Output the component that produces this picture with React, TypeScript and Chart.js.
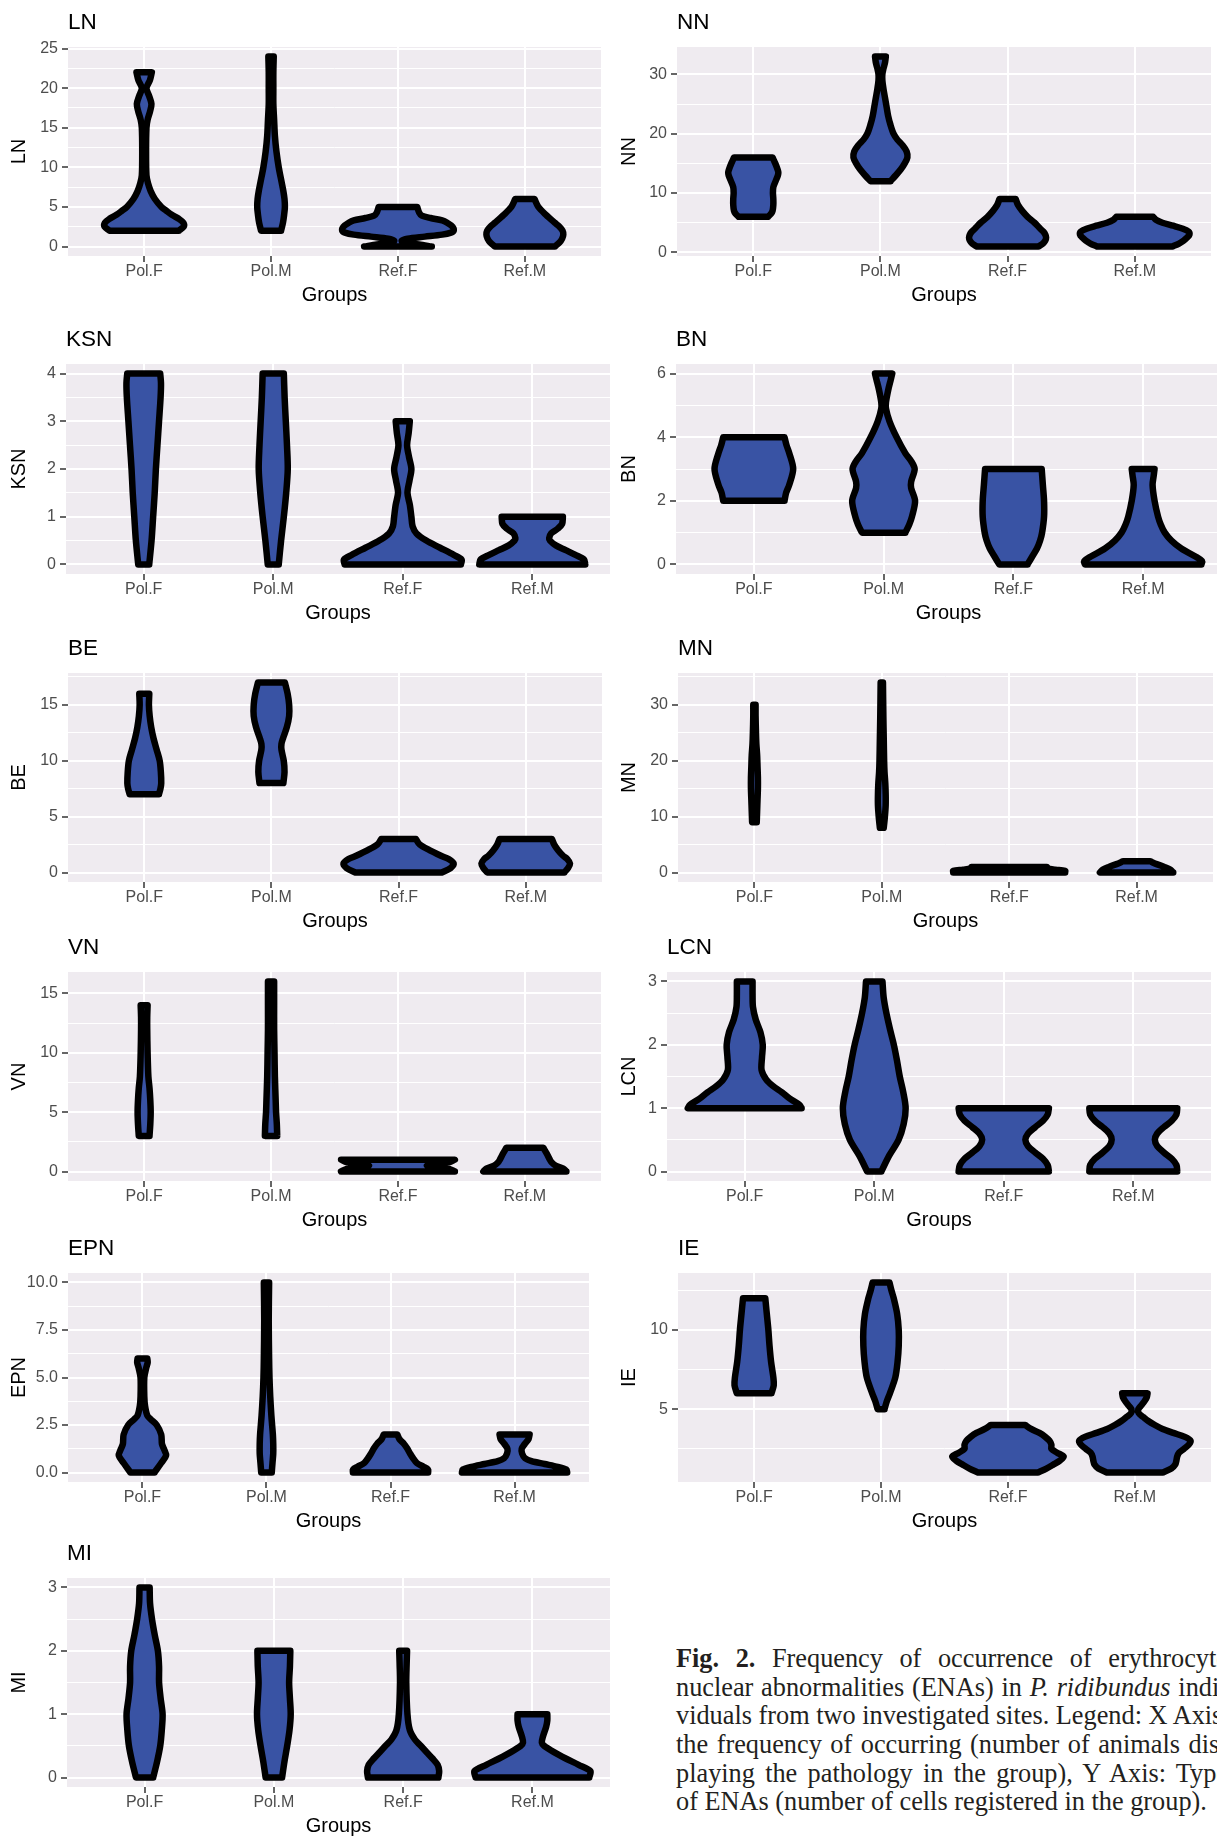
import React, { useEffect, useRef } from 'react';
import { Chart, registerables } from 'chart.js';

Chart.register(...registerables);

// ---------- categories ----------
const GROUPS = ['Pol.F', 'Pol.M', 'Ref.F', 'Ref.M'];
const X_TITLE = 'Groups';

// ---------- y tick labels per panel ----------
const LN_TICKS = [0, 5, 10, 15, 20, 25];
const NN_TICKS = [0, 10, 20, 30];
const KSN_TICKS = [0, 1, 2, 3, 4];
const BN_TICKS = [0, 2, 4, 6];
const BE_TICKS = [0, 5, 10, 15];
const MN_TICKS = [0, 10, 20, 30];
const VN_TICKS = [0, 5, 10, 15];
const LCN_TICKS = [0, 1, 2, 3];
const EPN_TICKS = [0, 2.5, 5, 7.5, 10];
const IE_TICKS = [5, 10];
const MI_TICKS = [0, 1, 2, 3];

// ---------- violin profiles: [value, relative density half-width] ----------
type Profile = [number, number][];

const LN_POLF: Profile = [[2, 90], [2.5, 103], [3, 102], [3.5, 90], [4, 72], [4.5, 58], [5, 45], [6, 28], [7, 17], [8, 10], [9, 6], [12, 5], [15, 6], [16, 9], [17, 15], [18, 19], [19, 13], [20, 6], [21, 15], [22, 20]];
const LN_POLM: Profile = [[2, 26], [3, 31], [4, 34], [5, 36], [6, 35], [7, 32], [8, 28], [10, 20], [12, 14], [14, 10], [16, 8], [18, 6], [20, 6], [22, 6], [24, 7]];
const LN_REFF: Profile = [[0, 88], [0.25, 55], [0.5, 14], [0.75, 10], [1, 25], [1.25, 70], [1.5, 115], [1.75, 138], [2, 145], [2.5, 142], [3, 128], [3.3, 115], [3.6, 85], [3.9, 62], [4.3, 55], [5, 50]];
const LN_REFM: Profile = [[0, 78], [0.5, 90], [1, 97], [1.5, 100], [2, 98], [2.5, 90], [3, 78], [4, 55], [5, 35], [6, 25]];

const NN_POLF: Profile = [[6, 38], [6.5, 46], [7, 50], [8, 52], [9, 52], [10, 51], [11, 52], [12, 58], [13, 64], [13.5, 65], [14, 63], [15, 57], [16, 50]];
const NN_POLM: Profile = [[12, 26], [13, 40], [14, 53], [15, 63], [16, 70], [17, 68], [18, 58], [19, 44], [20, 34], [21.5, 26], [23, 20], [24.5, 16], [26, 12], [27.5, 8], [29, 5], [30, 5], [31, 8], [32, 12], [33, 14]];
const NN_REFF: Profile = [[1, 80], [1.5, 92], [2, 98], [2.5, 100], [3, 98], [3.5, 93], [4, 85], [5, 70], [6, 52], [7, 38], [8, 27], [9, 21]];
const NN_REFM: Profile = [[1, 98], [1.5, 115], [2, 127], [2.5, 136], [3, 142], [3.5, 140], [4, 125], [4.5, 100], [5, 72], [5.5, 55], [6, 48]];

const KSN_POLF: Profile = [[0, 14], [0.5, 20], [1, 24], [1.5, 28], [2, 31], [2.5, 35], [3, 39], [3.5, 43], [3.8, 44], [4, 42]];
const KSN_POLM: Profile = [[0, 14], [0.5, 20], [1, 27], [1.5, 33], [2, 37], [2.5, 35], [3, 32], [3.5, 29], [4, 27]];
const KSN_REFF: Profile = [[0, 148], [0.1, 150], [0.2, 130], [0.35, 95], [0.5, 60], [0.65, 35], [0.8, 25], [1, 22], [1.25, 18], [1.5, 12], [1.75, 17], [2, 22], [2.25, 16], [2.5, 11], [2.75, 15], [3, 18]];
const KSN_REFM: Profile = [[0, 135], [0.1, 132], [0.2, 110], [0.3, 85], [0.4, 60], [0.5, 45], [0.55, 43], [0.65, 48], [0.75, 65], [0.85, 76], [1, 78]];

const BN_POLF: Profile = [[2, 78], [2.25, 82], [2.5, 90], [3, 100], [3.5, 90], [3.75, 83], [4, 78]];
const BN_POLM: Profile = [[1, 55], [1.25, 65], [1.5, 72], [2, 80], [2.4, 70], [2.6, 70], [3, 79], [3.25, 70], [3.5, 55], [4, 33], [4.5, 15], [4.9, 6], [5.1, 6], [5.5, 12], [5.8, 18], [6, 22]];
const BN_REFF: Profile = [[0, 36], [0.25, 48], [0.5, 60], [0.75, 68], [1, 73], [1.5, 78], [2, 78], [2.5, 75], [3, 72]];
const BN_REFM: Profile = [[0, 148], [0.1, 150], [0.25, 133], [0.5, 97], [0.75, 72], [1, 55], [1.25, 45], [1.5, 38], [2, 29], [2.5, 24], [2.8, 27], [3, 29]];

const BE_POLF: Profile = [[7, 38], [7.5, 42], [8, 44], [9, 43], [10, 40], [11, 32], [12, 24], [13, 18], [14, 14], [15, 12], [16, 13]];
const BE_POLM: Profile = [[8, 31], [9, 34], [10, 32], [11, 26], [11.5, 26], [12, 30], [13, 40], [14, 46], [15, 46], [16, 42], [17, 35]];
const BE_REFF: Profile = [[0, 112], [0.4, 135], [0.8, 143], [1.2, 130], [1.5, 110], [2, 80], [2.5, 55], [3, 45]];
const BE_REFM: Profile = [[0, 100], [0.4, 110], [0.8, 115], [1.2, 108], [1.5, 97], [2, 84], [2.5, 74], [3, 68]];

const MN_POLF: Profile = [[9, 6], [11, 7], [13, 8], [15, 9], [17, 9], [19, 8], [21, 7], [23, 5], [25, 4], [28, 3], [30, 3]];
const MN_POLM: Profile = [[8, 5], [10, 8], [12, 10], [14, 10], [16, 9], [18, 7], [20, 6], [24, 5], [28, 4], [34, 3]];
const MN_REFF: Profile = [[0, 145], [0.3, 145], [0.5, 120], [0.7, 100], [1, 98]];
const MN_REFM: Profile = [[0, 95], [0.5, 88], [1, 72], [1.5, 52], [2, 35]];

const VN_POLF: Profile = [[3, 14], [4, 16], [5, 17], [6, 16], [7, 14], [8, 11], [10, 9], [12, 8], [13, 8], [14, 9]];
const VN_POLM: Profile = [[3, 16], [4, 15], [5, 13], [6, 12], [8, 10], [10, 9], [12, 8], [14, 8], [16, 8]];
const VN_REFF: Profile = [[0, 148], [0.2, 135], [0.35, 100], [0.5, 75], [0.65, 100], [0.8, 135], [1, 148]];
const VN_REFM: Profile = [[0, 108], [0.25, 100], [0.5, 80], [0.75, 70], [1, 65], [1.5, 57], [2, 48]];

const LCN_POLF: Profile = [[1, 145], [1.05, 140], [1.15, 115], [1.25, 95], [1.35, 72], [1.45, 55], [1.6, 43], [1.8, 44], [2, 46], [2.2, 40], [2.4, 28], [2.6, 21], [2.8, 20], [3, 20]];
const LCN_POLM: Profile = [[0, 18], [0.25, 38], [0.5, 62], [0.75, 75], [1, 80], [1.25, 74], [1.5, 65], [1.75, 58], [2, 50], [2.25, 40], [2.5, 31], [2.75, 24], [3, 21]];
const LCN_REFF: Profile = [[0, 115], [0.1, 112], [0.2, 100], [0.3, 80], [0.4, 62], [0.5, 55], [0.6, 62], [0.7, 80], [0.8, 100], [0.9, 112], [1, 115]];
const LCN_REFM: Profile = [[0, 112], [0.1, 110], [0.2, 98], [0.3, 78], [0.4, 61], [0.5, 55], [0.6, 61], [0.7, 78], [0.8, 98], [0.9, 110], [1, 112]];

const EPN_POLF: Profile = [[0, 32], [0.5, 50], [0.9, 63], [1.2, 58], [1.5, 52], [2, 50], [2.5, 38], [2.8, 22], [3, 13], [3.5, 7], [4, 5], [5, 5], [5.5, 10], [5.8, 14], [6, 13]];
const EPN_POLM: Profile = [[0, 14], [0.5, 16], [1, 18], [1.5, 18], [2, 17], [2.5, 15], [3, 13], [4, 10], [5, 8], [6, 7], [8, 6], [10, 7]];
const EPN_REFF: Profile = [[0, 100], [0.15, 100], [0.3, 88], [0.5, 70], [0.75, 60], [1, 52], [1.25, 45], [1.5, 36], [1.75, 24], [2, 18]];
const EPN_REFM: Profile = [[0, 140], [0.15, 138], [0.3, 115], [0.45, 80], [0.6, 45], [0.75, 28], [1, 20], [1.25, 19], [1.5, 27], [1.75, 37], [2, 40]];

const IE_POLF: Profile = [[6, 45], [6.5, 51], [7, 50], [8, 44], [9, 40], [10, 37], [11, 33], [11.5, 31], [12, 29]];
const IE_POLM: Profile = [[5, 9], [5.5, 15], [6, 23], [7, 37], [8, 43], [9, 46], [10, 46], [11, 42], [12, 33], [12.5, 27], [13, 22]];
const IE_REFF: Profile = [[1, 78], [1.25, 100], [1.5, 118], [1.75, 135], [2, 145], [2.25, 128], [2.5, 113], [2.75, 113], [3, 108], [3.25, 97], [3.5, 82], [3.75, 60], [4, 45]];
const IE_REFM: Profile = [[1, 73], [1.25, 95], [1.5, 105], [1.75, 108], [2, 110], [2.25, 115], [2.5, 128], [2.75, 140], [3, 145], [3.25, 130], [3.5, 100], [3.75, 72], [4, 52], [4.25, 35], [4.5, 22], [4.75, 10], [5, 9], [5.25, 17], [5.5, 25], [5.75, 31], [6, 33]];

const MI_POLF: Profile = [[0, 22], [0.25, 32], [0.5, 40], [0.75, 44], [1, 46], [1.25, 41], [1.5, 37], [1.75, 37], [2, 34], [2.25, 26], [2.5, 19], [2.75, 14], [3, 13]];
const MI_POLM: Profile = [[0, 21], [0.25, 27], [0.5, 34], [0.75, 40], [1, 43], [1.25, 41], [1.5, 39], [1.75, 41], [2, 42]];
const MI_REFF: Profile = [[0, 90], [0.1, 92], [0.2, 88], [0.3, 75], [0.4, 60], [0.5, 45], [0.6, 30], [0.75, 17], [1, 11], [1.5, 8], [1.8, 9], [2, 10]];
const MI_REFM: Profile = [[0, 145], [0.1, 148], [0.2, 118], [0.3, 85], [0.4, 55], [0.5, 30], [0.55, 24], [0.65, 27], [0.8, 35], [0.9, 38], [1, 38]];

// ---------- styles ----------
const FONT = "'Liberation Sans', Arial, Helvetica, sans-serif";
const SERIF = "'Liberation Serif', 'Times New Roman', serif";
const VIOLIN_FILL = '#3953A4';
const PANEL_BG = '#EFEBF0';
const WIDTH_DIV = 330; // relative density -> category units
const TOP_GAP = 46;
const BOTTOM_GAP = 52;

Chart.defaults.font.family = FONT;

interface PanelDef {
  name: string;
  violins: Profile[];
  ticks: number[];
  decimals: number;
  colX: number;
  L: number;
  R: number;
  T: number;
  B: number;
}

const PANELS: PanelDef[] = [
  { name: 'LN', violins: [LN_POLF, LN_POLM, LN_REFF, LN_REFM], ticks: LN_TICKS, decimals: 0, colX: 0, L: 68, R: 601, T: 47, B: 256 },
  { name: 'NN', violins: [NN_POLF, NN_POLM, NN_REFF, NN_REFM], ticks: NN_TICKS, decimals: 0, colX: 610, L: 677, R: 1211, T: 47, B: 256 },
  { name: 'KSN', violins: [KSN_POLF, KSN_POLM, KSN_REFF, KSN_REFM], ticks: KSN_TICKS, decimals: 0, colX: 0, L: 66, R: 610, T: 364, B: 574 },
  { name: 'BN', violins: [BN_POLF, BN_POLM, BN_REFF, BN_REFM], ticks: BN_TICKS, decimals: 0, colX: 610, L: 676, R: 1221, T: 364, B: 574 },
  { name: 'BE', violins: [BE_POLF, BE_POLM, BE_REFF, BE_REFM], ticks: BE_TICKS, decimals: 0, colX: 0, L: 68, R: 602, T: 673, B: 882 },
  { name: 'MN', violins: [MN_POLF, MN_POLM, MN_REFF, MN_REFM], ticks: MN_TICKS, decimals: 0, colX: 610, L: 678, R: 1213, T: 673, B: 882 },
  { name: 'VN', violins: [VN_POLF, VN_POLM, VN_REFF, VN_REFM], ticks: VN_TICKS, decimals: 0, colX: 0, L: 68, R: 601, T: 972, B: 1181 },
  { name: 'LCN', violins: [LCN_POLF, LCN_POLM, LCN_REFF, LCN_REFM], ticks: LCN_TICKS, decimals: 0, colX: 610, L: 667, R: 1211, T: 972, B: 1181 },
  { name: 'EPN', violins: [EPN_POLF, EPN_POLM, EPN_REFF, EPN_REFM], ticks: EPN_TICKS, decimals: 1, colX: 0, L: 68, R: 589, T: 1273, B: 1482 },
  { name: 'IE', violins: [IE_POLF, IE_POLM, IE_REFF, IE_REFM], ticks: IE_TICKS, decimals: 0, colX: 610, L: 678, R: 1211, T: 1273, B: 1482 },
  { name: 'MI', violins: [MI_POLF, MI_POLM, MI_REFF, MI_REFM], ticks: MI_TICKS, decimals: 0, colX: 0, L: 67, R: 610, T: 1578, B: 1787 },
];

function violinPoints(profile: Profile, center: number) {
  const right = profile.map(([y, w]) => ({ x: center + w / WIDTH_DIV, y }));
  const left = profile.map(([y, w]) => ({ x: center - w / WIDTH_DIV, y })).reverse();
  const rL = right.length - 1;
  const lL = left.length - 1;
  return [
    right[0], right[0], ...right.slice(1, rL), right[rL], right[rL],
    left[0], left[0], ...left.slice(1, lL), left[lL], left[lL],
    right[0],
  ];
}

const bgPlugin = {
  id: 'panelBg',
  beforeDraw(chart: any) {
    const { ctx, chartArea: a } = chart;
    ctx.save();
    ctx.fillStyle = PANEL_BG;
    ctx.fillRect(a.left, a.top, a.right - a.left, a.bottom - a.top);
    ctx.restore();
  },
};

function Panel({ p }: { p: PanelDef }) {
  const ref = useRef<HTMLCanvasElement | null>(null);
  const top = p.T - TOP_GAP;
  const width = p.R - p.colX;
  const height = p.B - p.T + TOP_GAP + BOTTOM_GAP;

  useEffect(() => {
    if (!ref.current) return;
    const allY = p.violins.flatMap((v) => v.map((d) => d[0]));
    const lo = Math.min(...allY);
    const hi = Math.max(...allY);
    const ex = (hi - lo) * 0.05;
    const yMin = lo - ex;
    const yMax = hi + ex;
    const step = p.ticks[1] - p.ticks[0];
    const minor = step / 2;
    const yTickVals: number[] = [];
    for (let k = Math.ceil(yMin / minor - 1e-9); k * minor <= yMax + 1e-9; k++) {
      yTickVals.push(+(k * minor).toFixed(6));
    }
    const isMajor = (v: number) => p.ticks.some((t) => Math.abs(t - v) < 1e-6);
    const tickFont = { family: FONT, size: 16 };
    const titleFont = { family: FONT, size: 20, weight: 'normal' as const, lineHeight: 1.2 };

    const chart = new Chart(ref.current, {
      type: 'scatter',
      data: {
        datasets: p.violins.map((v, i) => ({
          data: violinPoints(v, i + 1),
          showLine: true,
          fill: 'shape',
          backgroundColor: VIOLIN_FILL,
          borderColor: '#000000',
          borderWidth: 6.5,
          pointRadius: 0,
          pointHoverRadius: 0,
          tension: 0.3,
          borderJoinStyle: 'round',
          borderCapStyle: 'round',
        })) as any,
      },
      options: {
        animation: false,
        responsive: false,
        maintainAspectRatio: false,
        events: [],
        layout: { padding: 0 },
        plugins: {
          legend: { display: false },
          tooltip: { enabled: false },
          title: {
            display: true,
            text: p.name,
            align: 'start',
            fullSize: false,
            color: '#000000',
            font: { family: FONT, size: 22.5, weight: 'normal', lineHeight: 1.2 },
            padding: { top: 8, bottom: 11 },
          },
        },
        scales: {
          x: {
            type: 'linear',
            min: 0.4,
            max: 4.6,
            bounds: 'data',
            afterBuildTicks: (s: any) => {
              s.ticks = GROUPS.map((_, i) => ({ value: i + 1 }));
            },
            afterFit: (s: any) => {
              s.height = BOTTOM_GAP;
            },
            ticks: {
              autoSkip: false,
              maxRotation: 0,
              minRotation: 0,
              padding: 0.3,
              color: '#4D4D4D',
              font: tickFont,
              callback: (v: any) => GROUPS[Math.round(Number(v)) - 1] ?? '',
            },
            grid: {
              color: '#FFFFFF',
              lineWidth: 2,
              tickColor: '#333333',
              tickLength: 6,
              tickWidth: 1.5,
            },
            border: { display: false },
            title: {
              display: true,
              text: X_TITLE,
              color: '#000000',
              font: titleFont,
              padding: { top: 0, bottom: 1 },
            },
          },
          y: {
            type: 'linear',
            min: yMin,
            max: yMax,
            bounds: 'data',
            afterBuildTicks: (s: any) => {
              s.ticks = yTickVals.map((v) => ({ value: v }));
            },
            afterFit: (s: any) => {
              s.width = p.L - p.colX;
            },
            ticks: {
              autoSkip: false,
              padding: 4,
              color: '#4D4D4D',
              font: tickFont,
              callback: (v: any) => (isMajor(Number(v)) ? Number(v).toFixed(p.decimals) : ''),
            },
            grid: {
              color: '#FFFFFF',
              lineWidth: (ctx: any) => (ctx.tick && isMajor(ctx.tick.value) ? 2 : 1),
              tickColor: (ctx: any) => (ctx.tick && isMajor(ctx.tick.value) ? '#333333' : 'rgba(0,0,0,0)'),
              tickLength: 6,
              tickWidth: 1.5,
            },
            border: { display: false },
            title: {
              display: true,
              text: p.name,
              color: '#000000',
              font: titleFont,
              padding: { top: 7.5, bottom: 0 },
            },
          },
        },
      } as any,
      plugins: [bgPlugin],
    });
    return () => chart.destroy();
  }, [p]);

  return (
    <canvas
      ref={ref}
      width={width}
      height={height}
      style={{ position: 'absolute', left: p.colX, top, width, height, display: 'block' }}
    />
  );
}

const lineStyle: React.CSSProperties = {
  height: 28.7,
  lineHeight: '28.7px',
  textAlign: 'justify',
  textAlignLast: 'justify' as any,
  whiteSpace: 'nowrap',
};

function Caption() {
  return (
    <div
      style={{
        position: 'absolute',
        left: 676,
        top: 1645,
        width: 552,
        fontFamily: SERIF,
        fontSize: 26.3,
        color: '#231F20',
      }}
    >
      <div style={lineStyle}><b>Fig. 2.</b> Frequency of occurrence of erythrocyte</div>
      <div style={lineStyle}>nuclear abnormalities (ENAs) in <i>P. ridibundus</i> indi-</div>
      <div style={lineStyle}>viduals from two investigated sites. Legend: X Axis:</div>
      <div style={lineStyle}>the frequency of occurring (number of animals dis-</div>
      <div style={lineStyle}>playing the pathology in the group), Y Axis: Type</div>
      <div style={{ ...lineStyle, textAlign: 'left', textAlignLast: 'left' as any }}>of ENAs (number of cells registered in the group).</div>
    </div>
  );
}

export default function App() {
  return (
    <div
      style={{
        position: 'absolute',
        left: 0,
        top: 0,
        width: 1217,
        height: 1836,
        overflow: 'hidden',
        background: '#FFFFFF',
      }}
    >
      {PANELS.map((p) => (
        <Panel key={p.name} p={p} />
      ))}
      <Caption />
    </div>
  );
}
